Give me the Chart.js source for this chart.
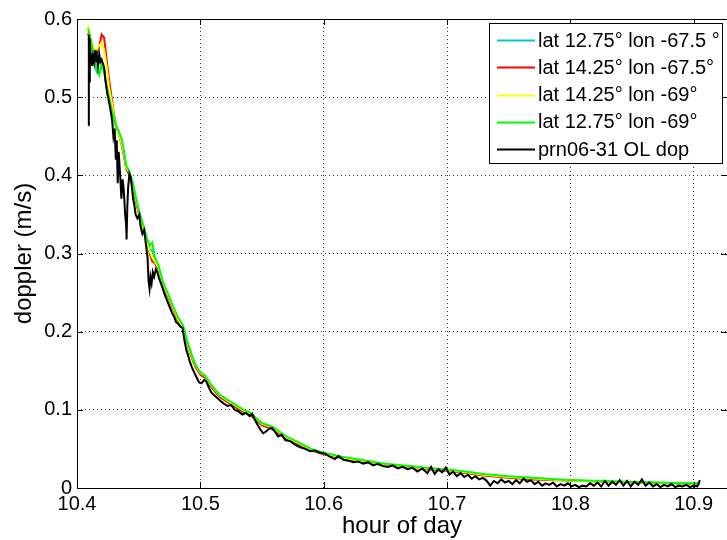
<!DOCTYPE html>
<html><head><meta charset="utf-8">
<script src="https://cdn.jsdelivr.net/npm/chart.js@4/dist/chart.umd.min.js"></script>
<style>html,body{margin:0;padding:0;background:#fff;}#wrap{width:727px;height:540px;}</style>
</head><body><div id="wrap"><canvas id="c" width="727" height="540"></canvas></div>
<script>
// ---- data ----
const seriesLabels = ['lat 12.75\u00B0 lon -67.5 \u00B0','lat 14.25\u00B0 lon -67.5\u00B0','lat 14.25\u00B0 lon -69\u00B0','lat 12.75\u00B0 lon -69\u00B0','prn06-31 OL dop'];
const seriesColors = ['rgb(0,200,210)','#ff0000','#ffff00','#00ff00','#000000'];

const modelHours = [10.409,10.411,10.414,10.416,10.418,10.420,10.422,10.424,10.426,10.428,
10.430,10.432,10.434,10.436,10.438,10.440,10.442,10.445,10.448,10.451,
10.454,10.457,10.459,10.461,10.463,10.466,10.470,10.474,10.478,10.482,
10.486,10.489,10.492,10.496,10.500,10.504,10.508,10.512,10.516,10.520,
10.525,10.530,10.535,10.540,10.545,10.550,10.556,10.560,10.566,10.572,
10.580,10.590,10.600,10.615,10.630,10.650,10.670,10.690,10.710,10.730,
10.750,10.770,10.790,10.810,10.830,10.850,10.870,10.890,10.905];

const cyanDop = [.575,.57,.545,.532,.53,.54,.533,.512,.498,.483,
.47,.46,.456,.446,.43,.41,.404,.39,.368,.348,
.333,.316,.305,.304,.293,.283,.26,.246,.23,.216,
.206,.188,.173,.156,.146,.142,.132,.124,.117,.113,
.108,.103,.098,.095,.088,.081,.078,.075,.068,.062,
.056,.049,.044,.039,.035,.03,.027,.024,.021,.017,
.014,.012,.0105,.0092,.0084,.0075,.0067,.006,.0055];

const redDop = [.582,.568,.56,.556,.565,.58,.576,.548,.522,.5,
.478,.462,.452,.44,.425,.408,.402,.387,.365,.345,
.33,.312,.3,.29,.288,.28,.258,.244,.228,.214,
.204,.186,.171,.155,.145,.141,.131,.123,.116,.112,
.107,.102,.097,.094,.087,.08,.077,.074,.067,.061,
.055,.048,.043,.038,.034,.029,.026,.023,.02,.016,
.013,.011,.0098,.0088,.008,.0072,.0064,.0057,.0052];

const yellowDop = [.592,.574,.562,.56,.566,.57,.56,.54,.512,.495,
.476,.461,.452,.442,.428,.41,.405,.39,.368,.348,
.332,.314,.302,.295,.29,.282,.26,.246,.23,.216,
.206,.188,.173,.157,.147,.143,.133,.125,.118,.114,
.109,.104,.099,.096,.089,.082,.079,.076,.069,.063,
.057,.049,.044,.039,.035,.03,.027,.024,.021,.017,
.014,.012,.0102,.009,.0082,.0074,.0066,.0059,.0054];

const greenDop = [0.588,0.575,0.55,0.535,0.528,0.543,0.535,0.515,0.5,0.485,
0.474,0.462,0.455,0.448,0.432,0.412,0.407,0.392,0.37,0.35,
0.335,0.318,0.31,0.314,0.296,0.285,0.262,0.248,0.232,0.218,
0.208,0.19,0.175,0.158,0.148,0.144,0.134,0.126,0.119,0.115,
0.11,0.105,0.1,0.097,0.09,0.083,0.08,0.077,0.07,0.064,
0.058,0.05,0.045,0.04,0.036,0.031,0.028,0.025,0.022,0.018,
0.015,0.013,0.011,0.0096,0.0088,0.0078,0.007,0.0062,0.0058];

const obsHours = [10.4092,10.4096,10.4100,10.4104,10.4110,10.4116,10.4122,10.4130,10.4138,10.4146,
10.4154,10.4162,10.4170,10.4180,10.4190,10.4200,10.4210,10.4220,10.4230,10.4245,
10.4255,10.4270,10.4285,10.4295,10.4305,10.4315,10.4322,10.4330,10.4338,10.4350,
10.4360,10.4370,10.4380,10.4390,10.4398,10.4402,10.4408,10.4415,10.4425,10.4435,
10.4445,10.4455,10.4465,10.4475,10.4490,10.4505,10.4515,10.4530,10.4545,10.4560,
10.4572,10.4580,10.4588,10.4596,10.4605,10.4615,10.4625,10.4640,10.4652,10.4665,
10.4680,10.4695,10.4710,10.4730,10.4750,10.4770,10.4790,10.4805,10.4820,10.4840,
10.4855,10.4870,10.4887,10.4900,10.4912,10.4930,10.4950,10.4968,10.4990,10.5009,
10.5030,10.5049,10.5070,10.5090,10.5110,10.5130,10.5160,10.5190,10.5220,10.5250,
10.5280,10.5310,10.5340,10.5370,10.5400,10.5420,10.5440,10.5460,10.5490,10.5510,
10.5530,10.5560,10.5580,10.5600,10.5630,10.5660,10.5690,10.5730,10.5770,10.5810,
10.5850,10.5890,10.5930,10.5970,10.6010,10.6050,10.6090,10.6120,10.6160,10.6200,
10.6240,10.6280,10.6320,10.6360,10.6400,10.6440,10.6480,10.6520,10.6560,10.6600,
10.6640,10.6680,10.6720,10.6760,10.6800,10.6840,10.6870,10.6900,10.6930,10.6960,
10.6990,10.7020,10.7050,10.7080,10.7110,10.7140,10.7170,10.7200,10.7230,10.7260,
10.7290,10.7320,10.7350,10.7380,10.7410,10.7440,10.7470,10.7500,10.7530,10.7560,
10.7590,10.7620,10.7650,10.7680,10.7710,10.7740,10.7770,10.7800,10.7830,10.7860,
10.7890,10.7920,10.7950,10.7980,10.8010,10.8040,10.8070,10.8100,10.8130,10.8160,
10.8190,10.8220,10.8250,10.8280,10.8310,10.8340,10.8370,10.8400,10.8430,10.8460,
10.8490,10.8520,10.8550,10.8580,10.8610,10.8640,10.8670,10.8700,10.8730,10.8760,
10.8790,10.8820,10.8850,10.8880,10.8910,10.8940,10.8970,10.9000,10.9030,10.9050];

const obsDop = [0.464,0.580,0.520,0.575,0.548,0.556,0.540,0.552,0.545,0.560,
0.545,0.552,0.540,0.555,0.545,0.548,0.543,0.538,0.522,0.505,
0.498,0.485,0.470,0.450,0.460,0.420,0.445,0.390,0.430,0.400,
0.370,0.395,0.380,0.350,0.338,0.318,0.360,0.385,0.402,0.398,
0.385,0.370,0.362,0.350,0.345,0.350,0.335,0.325,0.330,0.310,
0.295,0.265,0.255,0.270,0.262,0.276,0.270,0.280,0.276,0.268,
0.262,0.255,0.248,0.240,0.232,0.224,0.218,0.212,0.210,0.206,
0.205,0.190,0.176,0.170,0.163,0.155,0.148,0.142,0.135,0.134,
0.138,0.136,0.128,0.122,0.119,0.116,0.112,0.108,0.105,0.106,
0.100,0.098,0.094,0.096,0.092,0.095,0.088,0.082,0.074,0.070,
0.072,0.076,0.077,0.073,0.066,0.068,0.061,0.060,0.055,0.052,
0.050,0.047,0.048,0.045,0.044,0.040,0.037,0.041,0.036,0.035,
0.033,0.034,0.031,0.033,0.029,0.031,0.028,0.027,0.029,0.025,
0.027,0.024,0.026,0.021,0.025,0.019,0.027,0.018,0.024,0.020,
0.026,0.017,0.021,0.015,0.019,0.014,0.017,0.012,0.015,0.011,
0.013,0.0095,0.003,0.009,0.006,0.011,0.007,0.009,0.005,0.010,
0.006,0.012,0.008,0.010,0.005,0.008,0.003,0.006,0.004,0.007,
0.002,0.005,0.003,0.006,0.002,0.004,0.001,0.003,0.002,0.006,
0.003,0.007,0.002,0.009,0.003,0.008,0.004,0.010,0.003,0.009,
0.002,0.008,0.004,0.011,0.003,0.007,0.002,0.005,0.001,0.004,
0.002,0.005,0.001,0.003,0.002,0.004,0.001,0.003,0.002,0.010];

const xTicks = [10.4,10.5,10.6,10.7,10.8,10.9];
const yTicks = [0,0.1,0.2,0.3,0.4,0.5,0.6];
const xLimits = [10.4, 10.927];
const yLimits = [0, 0.6];

// ---- chart ----
const FONT = '"Liberation Sans", Arial, Helvetica, sans-serif';
const pts = (xs, ys) => xs.map((x, i) => ({x: x, y: ys[i]}));
const modelSeries = [cyanDop, redDop, yellowDop, greenDop];
const datasets = modelSeries.map((vals, i) => ({
  label: seriesLabels[i], data: pts(modelHours, vals),
  borderColor: seriesColors[i], backgroundColor: seriesColors[i],
  borderWidth: 2, pointRadius: 0, showLine: true, tension: 0, order: 5 - i
}));
datasets.push({label: seriesLabels[4], data: pts(obsHours, obsDop),
  borderColor: seriesColors[4], backgroundColor: seriesColors[4],
  borderWidth: 2, pointRadius: 0, showLine: true, tension: 0, order: 0});

const framePlugin = {
  id: 'frame',
  afterDatasetsDraw(chart) {
    const {ctx, chartArea: a, scales} = chart;
    ctx.save();
    ctx.strokeStyle = '#000'; ctx.lineWidth = 1; ctx.setLineDash([]);
    ctx.strokeRect(Math.round(a.left) + 0.5, Math.round(a.top) + 0.5,
      Math.round(a.right - a.left), Math.round(a.bottom - a.top));
    const tl = 6;
    ctx.beginPath();
    xTicks.forEach(v => {
      const px = Math.round(scales.x.getPixelForValue(v)) + 0.5;
      ctx.moveTo(px, a.bottom); ctx.lineTo(px, a.bottom - tl);
      ctx.moveTo(px, a.top); ctx.lineTo(px, a.top + tl);
    });
    yTicks.forEach(v => {
      const py = Math.round(scales.y.getPixelForValue(v)) + 0.5;
      ctx.moveTo(a.left, py); ctx.lineTo(a.left + tl, py);
      ctx.moveTo(a.right, py); ctx.lineTo(a.right - tl, py);
    });
    ctx.stroke();
    ctx.restore();
  }
};

const legendPlugin = {
  id: 'mlegend',
  afterDraw(chart) {
    const {ctx, chartArea: a} = chart;
    const w = 233, h = 140;
    const x0 = Math.round(a.right - 5 - w), y0 = Math.round(a.top + 4);
    ctx.save();
    ctx.fillStyle = '#fff';
    ctx.fillRect(x0, y0, w, h);
    ctx.strokeStyle = '#000'; ctx.lineWidth = 1; ctx.setLineDash([]);
    ctx.strokeRect(x0 + 0.5, y0 + 0.5, w, h);
    ctx.font = '20px ' + FONT;
    ctx.textBaseline = 'middle'; ctx.textAlign = 'left';
    chart.data.datasets.forEach((ds, i) => {
      const cy = y0 + 17 + i * 27.3;
      ctx.strokeStyle = ds.borderColor; ctx.lineWidth = 2;
      ctx.beginPath(); ctx.moveTo(x0 + 8, Math.round(cy) + 0.5); ctx.lineTo(x0 + 46, Math.round(cy) + 0.5); ctx.stroke();
      ctx.fillStyle = '#000';
      ctx.fillText(ds.label, x0 + 49, cy + 1);
    });
    ctx.restore();
  }
};

new Chart(document.getElementById('c'), {
  type: 'scatter',
  data: {datasets: datasets},
  plugins: [framePlugin, legendPlugin],
  options: {
    responsive: false, animation: false, devicePixelRatio: 1,
    layout: {padding: {top: 19, right: 0, left: 0, bottom: 0}},
    plugins: {legend: {display: false}, tooltip: {enabled: false}},
    scales: {
      x: {
        type: 'linear', min: xLimits[0], max: xLimits[1],
        afterFit(s) { s.height = 52; },
        afterBuildTicks(s) { s.ticks = xTicks.map(v => ({value: v})); },
        ticks: {font: {family: FONT, size: 20}, color: '#000', padding: 4, maxRotation: 0, autoSkip: false,
          callback: v => Number(v).toFixed(1)},
        grid: {color: 'rgba(0,0,0,0.8)', lineWidth: 1, drawTicks: false},
        border: {display: false, dash: [1, 3]},
        title: {display: true, text: 'hour of day', color: '#000', font: {family: FONT, size: 24, lineHeight: 1.1}, padding: {top: 0, bottom: 0}}
      },
      y: {
        type: 'linear', min: yLimits[0], max: yLimits[1],
        afterFit(s) { s.width = 77; },
        afterBuildTicks(s) { s.ticks = yTicks.map(v => ({value: v})); },
        ticks: {font: {family: FONT, size: 20}, color: '#000', padding: 5,
          callback: v => String(Math.round(v * 10) / 10)},
        grid: {color: 'rgba(0,0,0,0.8)', lineWidth: 1, drawTicks: false},
        border: {display: false, dash: [1, 3]},
        title: {display: true, text: 'doppler (m/s)', color: '#000', font: {family: FONT, size: 24, lineHeight: 1.1}, padding: {top: 11, bottom: 0}}
      }
    }
  }
});
</script></body></html>
